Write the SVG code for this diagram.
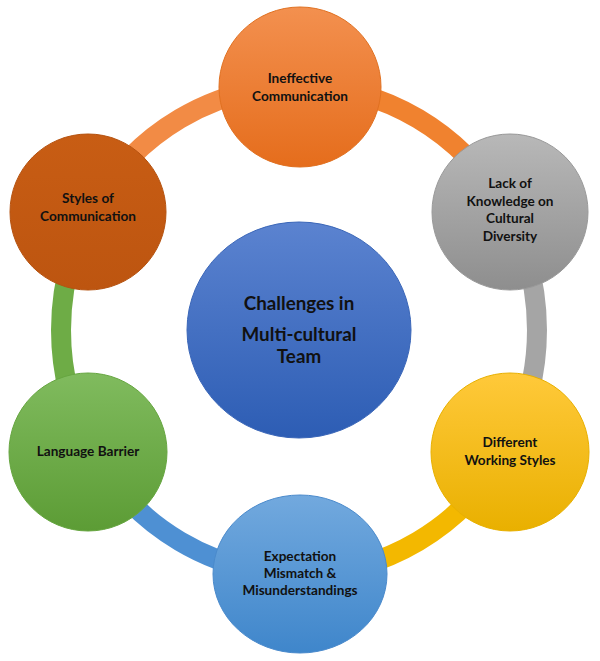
<svg xmlns="http://www.w3.org/2000/svg" width="600" height="661" viewBox="0 0 600 661">
<style>
.ring{fill:none;stroke-width:20}
.t{font-family:Lato,"Open Sans","Liberation Sans",sans-serif;font-weight:bold;font-size:13.6px;fill:#111;text-anchor:middle}
.tc{font-size:18.8px}
</style>
<defs>
<linearGradient id="gO" x1="0" y1="0" x2="0" y2="1"><stop offset="0" stop-color="#F3904F"/><stop offset="1" stop-color="#E56D1C"/></linearGradient>
<linearGradient id="gG" x1="0" y1="0" x2="0" y2="1"><stop offset="0" stop-color="#B8B8B8"/><stop offset="1" stop-color="#8E8E8E"/></linearGradient>
<linearGradient id="gY" x1="0" y1="0" x2="0" y2="1"><stop offset="0" stop-color="#FFC93A"/><stop offset="1" stop-color="#E9B000"/></linearGradient>
<linearGradient id="gB" x1="0" y1="0" x2="0" y2="1"><stop offset="0" stop-color="#72A9DE"/><stop offset="1" stop-color="#3F86CB"/></linearGradient>
<linearGradient id="gN" x1="0" y1="0" x2="0" y2="1"><stop offset="0" stop-color="#80BB5E"/><stop offset="1" stop-color="#5C9C35"/></linearGradient>
<linearGradient id="gR" x1="0" y1="0" x2="0" y2="1"><stop offset="0" stop-color="#C85D14"/><stop offset="1" stop-color="#BD5510"/></linearGradient>
<linearGradient id="gC" x1="0" y1="0" x2="0" y2="1"><stop offset="0" stop-color="#5B83D0"/><stop offset="1" stop-color="#2D5DB4"/></linearGradient>
</defs>
<g id="connectors">
<path class="ring" stroke="#F28B45" d="M92.9,208 A238,244 0 0 1 299,86"/>
<path class="ring" stroke="#F0822F" d="M299,86 A238,244 0 0 1 505.1,208"/>
<path class="ring" stroke="#A5A5A5" d="M505.1,208 A238,244 0 0 1 505.1,452"/>
<path class="ring" stroke="#F3B800" d="M505.1,452 A238,244 0 0 1 299,574"/>
<path class="ring" stroke="#4E90D3" d="M299,574 A238,244 0 0 1 92.9,452"/>
<path class="ring" stroke="#6EAC46" d="M92.9,452 A238,244 0 0 1 92.9,208"/>
</g>
<g id="center">
<ellipse cx="299" cy="330" rx="112" ry="108" fill="url(#gC)" stroke="#3A66B8" stroke-width="1"/>
<text class="t tc" x="299" y="310">Challenges in</text>
<text class="t tc" x="299" y="341">Multi-cultural</text>
<text class="t tc" x="299" y="363">Team</text>
</g>
<g id="n-ineffective">
<ellipse cx="300" cy="87" rx="81" ry="80" fill="url(#gO)" stroke="#E07020" stroke-width="1"/>
<text class="t" x="300" y="83">Ineffective</text>
<text class="t" x="300" y="100.5">Communication</text>
</g>
<g id="n-lack">
<circle cx="510" cy="212" r="78" fill="url(#gG)" stroke="#999" stroke-width="1"/>
<text class="t" x="510" y="188">Lack of</text>
<text class="t" x="510" y="205.5">Knowledge on</text>
<text class="t" x="510" y="223">Cultural</text>
<text class="t" x="510" y="240.5">Diversity</text>
</g>
<g id="n-working">
<circle cx="510" cy="452" r="79" fill="url(#gY)" stroke="#E8B000" stroke-width="1"/>
<text class="t" x="510" y="447">Different</text>
<text class="t" x="510" y="464.5">Working Styles</text>
</g>
<g id="n-expectation">
<ellipse cx="300" cy="574" rx="87" ry="79" fill="url(#gB)" stroke="#4A8ACC" stroke-width="1"/>
<text class="t" x="300" y="561">Expectation</text>
<text class="t" x="300" y="578">Mismatch &amp;</text>
<text class="t" x="300" y="595">Misunderstandings</text>
</g>
<g id="n-language">
<circle cx="88" cy="452" r="79" fill="url(#gN)" stroke="#66A640" stroke-width="1"/>
<text class="t" x="88" y="456">Language Barrier</text>
</g>
<g id="n-styles">
<circle cx="88" cy="212" r="78" fill="url(#gR)" stroke="#B5520F" stroke-width="1"/>
<text class="t" x="88" y="203">Styles of</text>
<text class="t" x="88" y="221">Communication</text>
</g>
</svg>
